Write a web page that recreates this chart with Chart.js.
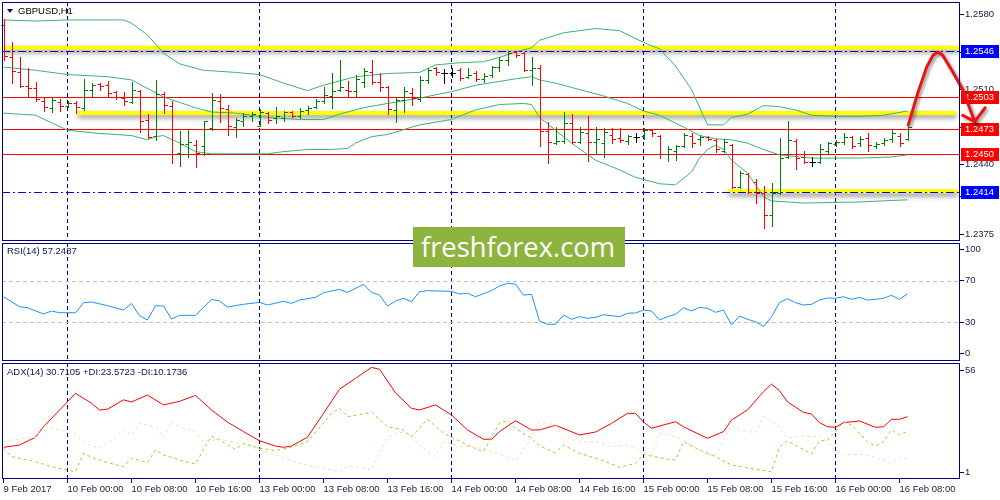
<!DOCTYPE html>
<html>
<head>
<meta charset="utf-8">
<title>GBPUSD,H1</title>
<script src="https://cdn.jsdelivr.net/npm/chart.js@4.4.1/dist/chart.umd.min.js"></script>
<style>
  body { margin: 0; background: #fff; }
  #wrap { position: relative; width: 1000px; height: 500px; overflow: hidden; font-family: "Liberation Sans", Arial, sans-serif; }
  canvas { position: absolute; left: 0; }
  #c1 { top: 0; }
  #c2 { top: 242px; }
  #c3 { top: 362px; }
  .lbl { position: absolute; font-size: 9.5px; line-height: 12px; color: #101050; white-space: nowrap; }
  #tri { position: absolute; left: 7px; top: 9px; width: 0; height: 0; border-left: 3px solid transparent; border-right: 3px solid transparent; border-top: 4px solid #000080; }
  #wm { position: absolute; left: 413px; top: 227px; width: 212px; height: 40px; background: #8db43e; overflow: hidden; }
  #wm span { position: absolute; left: 8px; top: 5px; font-family: "Open Sans", sans-serif; font-size: 28px; line-height: 28px; color: #fff; white-space: nowrap; transform-origin: 0 0; }
</style>
</head>
<body>
<div id="wrap">
  <canvas id="c1" width="1000" height="242"></canvas>
  <canvas id="c2" width="1000" height="120"></canvas>
  <canvas id="c3" width="1000" height="138"></canvas>
  <div id="tri"></div>
  <div class="lbl" style="left:18px;top:5px;color:#000">GBPUSD,H1</div>
  <div class="lbl" style="left:7px;top:245px">RSI(14) 57.2487</div>
  <div class="lbl" style="left:7px;top:366px">ADX(14) 30.7105 +DI:23.5723 -DI:10.1736</div>
  <div id="wm"><span>freshforex.com</span></div>
</div>
<script>
// hourly bars, 9 Feb 2017 16:00 .. 16 Feb 2017 09:00
const barOpen = [1.2570,1.2540,1.2526,1.2513,1.2511,1.2499,1.2493,1.2498,1.2495,1.2497,
  1.2493,1.2510,1.2515,1.2514,1.2508,1.2502,1.2498,1.2509,1.2482,1.2467,
  1.2506,1.2495,1.2451,1.2459,1.2458,1.2457,1.2474,1.2499,1.2492,1.2475,
  1.2481,1.2485,1.2476,1.2488,1.2483,1.2483,1.2489,1.2485,1.2491,1.2494,
  1.2499,1.2504,1.2510,1.2510,1.2509,1.2517,1.2526,1.2517,1.2512,1.2491,
  1.2500,1.2507,1.2501,1.2519,1.2530,1.2525,1.2525,1.2528,1.2522,1.2525,
  1.2520,1.2524,1.2531,1.2538,1.2545,1.2544,1.2528,1.2530,1.2471,1.2460,
  1.2462,1.2479,1.2461,1.2469,1.2461,1.2460,1.2468,1.2465,1.2462,1.2466,
  1.2467,1.2472,1.2467,1.2450,1.2453,1.2457,1.2467,1.2464,1.2466,1.2463,
  1.2453,1.2458,1.2419,1.2431,1.2424,1.2413,1.2393,1.2413,1.2447,1.2462,
  1.2447,1.2442,1.2442,1.2453,1.2459,1.2461,1.2466,1.2460,1.2465,1.2457,
  1.2460,1.2464,1.2467,1.2464];
const barHigh = [1.2576,1.2554,1.2540,1.2530,1.2517,1.2503,1.2502,1.2501,1.2499,1.2499,
  1.2520,1.2516,1.2516,1.2518,1.2509,1.2508,1.2517,1.2510,1.2487,1.2519,
  1.2508,1.2499,1.2471,1.2472,1.2463,1.2481,1.2507,1.2506,1.2496,1.2483,
  1.2488,1.2489,1.2492,1.2489,1.2494,1.2490,1.2490,1.2493,1.2495,1.2501,
  1.2512,1.2525,1.2538,1.2518,1.2524,1.2530,1.2538,1.2525,1.2513,1.2502,
  1.2512,1.2511,1.2523,1.2530,1.2531,1.2529,1.2530,1.2530,1.2530,1.2527,
  1.2525,1.2532,1.2540,1.2546,1.2546,1.2545,1.2540,1.2533,1.2480,1.2475,
  1.2489,1.2487,1.2475,1.2485,1.2475,1.2474,1.2474,1.2474,1.2468,1.2469,
  1.2474,1.2473,1.2468,1.2457,1.2458,1.2469,1.2469,1.2468,1.2467,1.2464,
  1.2464,1.2459,1.2434,1.2432,1.2426,1.2420,1.2423,1.2465,1.2481,1.2464,
  1.2453,1.2447,1.2459,1.2461,1.2463,1.2469,1.2467,1.2467,1.2469,1.2461,
  1.2465,1.2472,1.2469,1.2478];
const barLow = [1.2538,1.2516,1.2512,1.2503,1.2499,1.2490,1.2489,1.2490,1.2494,1.2488,
  1.2491,1.2503,1.2510,1.2504,1.2501,1.2496,1.2497,1.2470,1.2465,1.2463,
  1.2488,1.2441,1.2439,1.2447,1.2438,1.2449,1.2472,1.2480,1.2468,1.2466,
  1.2476,1.2481,1.2476,1.2479,1.2479,1.2481,1.2484,1.2483,1.2487,1.2493,
  1.2497,1.2493,1.2509,1.2504,1.2504,1.2512,1.2515,1.2509,1.2487,1.2480,
  1.2489,1.2496,1.2499,1.2516,1.2524,1.2516,1.2522,1.2519,1.2521,1.2518,
  1.2517,1.2522,1.2527,1.2533,1.2540,1.2527,1.2514,1.2457,1.2441,1.2459,
  1.2460,1.2460,1.2460,1.2443,1.2451,1.2447,1.2460,1.2461,1.2459,1.2461,
  1.2464,1.2467,1.2446,1.2443,1.2444,1.2456,1.2456,1.2458,1.2463,1.2452,
  1.2452,1.2418,1.2418,1.2413,1.2404,1.2381,1.2383,1.2412,1.2446,1.2436,
  1.2441,1.2439,1.2441,1.2451,1.2457,1.2459,1.2455,1.2457,1.2453,1.2455,
  1.2458,1.2461,1.2457,1.2463];
const barClose = [1.2541,1.2527,1.2513,1.2511,1.2501,1.2494,1.2500,1.2495,1.2497,1.2494,
  1.2510,1.2514,1.2513,1.2507,1.2503,1.2499,1.2510,1.2481,1.2466,1.2506,
  1.2496,1.2450,1.2459,1.2461,1.2451,1.2481,1.2500,1.2493,1.2476,1.2482,
  1.2485,1.2487,1.2489,1.2482,1.2485,1.2489,1.2485,1.2490,1.2493,1.2499,
  1.2505,1.2509,1.2512,1.2509,1.2520,1.2527,1.2517,1.2512,1.2492,1.2500,
  1.2509,1.2502,1.2519,1.2528,1.2526,1.2525,1.2525,1.2521,1.2524,1.2520,
  1.2523,1.2531,1.2538,1.2544,1.2542,1.2528,1.2530,1.2471,1.2461,1.2462,
  1.2479,1.2461,1.2470,1.2461,1.2464,1.2470,1.2464,1.2463,1.2467,1.2466,
  1.2472,1.2469,1.2450,1.2454,1.2457,1.2468,1.2460,1.2466,1.2464,1.2454,
  1.2461,1.2419,1.2432,1.2414,1.2413,1.2393,1.2413,1.2446,1.2463,1.2446,
  1.2442,1.2442,1.2454,1.2460,1.2461,1.2466,1.2457,1.2464,1.2458,1.2459,
  1.2463,1.2469,1.2460,1.2475];

// Bollinger bands (bar index / price)
const bbUpperBars = [0,4,8,12,15,16,18,20,22,25,29,32,35,38,40,44,48,52,54,57,60,62,64,66,67,70,74,77,80,82,84,86,88,90,91,93,95,97,99,101,104,107,110,113];
const bbUpper = [1.2575,1.2574,1.2575,1.2575,1.2575,1.2572,1.2561,1.2544,1.2534,1.2528,1.2526,1.2524,1.2516,1.2509,1.2514,1.2522,1.2525,1.2526,1.2533,1.2535,1.2536,1.2540,1.2545,1.2549,1.2556,1.2563,1.2567,1.2565,1.2554,1.2548,1.2532,1.2510,1.2477,1.2477,1.2484,1.2487,1.2495,1.2494,1.2491,1.2486,1.2485,1.2485,1.2486,1.2490];
const bbMiddleBars = [0,4,8,13,16,20,22,24,26,29,33,37,40,42,45,48,52,56,59,64,66,67,69,71,75,78,80,82,85,87,89,91,93,95,97,101,107,111,113];
const bbMiddle = [1.2531,1.2528,1.2524,1.2522,1.2519,1.2503,1.2498,1.2493,1.2489,1.2488,1.2484,1.2482,1.2482,1.2487,1.2493,1.2497,1.2502,1.2508,1.2514,1.2520,1.2522,1.2519,1.2516,1.2512,1.2504,1.2497,1.2490,1.2486,1.2475,1.2467,1.2464,1.2463,1.2460,1.2454,1.2449,1.2446,1.2446,1.2447,1.2449];
const bbLowerBars = [0,4,8,12,16,18,19,20,22,24,26,33,35,38,41,43,44,46,48,52,56,59,62,65,66,67,69,71,74,77,79,82,84,86,87,88,89,90,91,93,95,96,100,107,113];
const bbLower = [1.2488,1.2486,1.2472,1.2469,1.2467,1.2463,1.2466,1.2467,1.2460,1.2452,1.2450,1.2450,1.2452,1.2454,1.2454,1.2455,1.2460,1.2466,1.2468,1.2477,1.2482,1.2491,1.2496,1.2497,1.2496,1.2484,1.2472,1.2460,1.2444,1.2435,1.2428,1.2422,1.2421,1.2433,1.2446,1.2454,1.2458,1.2454,1.2444,1.2432,1.2410,1.2406,1.2404,1.2405,1.2407];

// RSI(14)
const rsiBars = [0,2,3,5,6,7,9,10,11,13,15,16,17,18,19,20,21,22,24,26,27,28,30,32,33,35,36,37,39,40,42,43,45,46,47,48,49,50,51,52,53,56,57,58,59,61,62,63,64,65,66,67,68,69,70,71,72,73,74,75,77,78,79,80,81,82,83,84,85,86,87,88,89,90,91,92,93,94,95,96,97,98,99,100,101,102,103,104,105,106,107,108,109,110,111,112,113];
const rsiValues = [54.4,44.8,43.8,37.8,40.7,39,39,48.7,49.3,45.8,41.6,48,36.2,32,45.8,45.5,33,36.5,36.5,51.9,50.3,44.5,47.1,49,46.4,50,48,51.2,53.8,58.3,61.5,58.6,66.3,58.6,56,45.5,50.3,52.9,49.6,59.2,60.2,59.6,57,57.7,54.4,60.2,64.7,67.3,66.6,56,56.7,31,27.9,27.9,36.8,32.7,35.2,33.7,34.6,37.1,35.2,38.5,38.8,41.6,40.7,32,35.2,37.5,43.8,40.7,44.2,43.3,39.4,41.6,27.2,35.9,32.7,30.4,25.6,35.2,48.7,52.5,48.7,46.4,47.1,51.2,53.2,52.9,54.4,51.9,53.8,51.2,51.9,52.9,55.8,51.9,57.2];
const rsiLevels = [70, 30];

// ADX(14), +DI, -DI
const adxBars = [0,2,4,5,8,9,11,12,13,15,16,18,20,22,24,26,28,30,32,34,35,36,38,40,42,44,46,47,49,51,52,54,56,58,60,61,62,64,66,67,69,72,74,76,78,79,80,81,84,85,88,90,91,93,95,96,97,98,100,101,102,103,104,105,107,109,110,111,112,113];
const adxValues = [14.6,15.8,20,25.6,39,43.5,38.2,34.6,35,40,38.9,42.6,37.3,39.2,42.4,34.6,28.1,23,18.1,15.3,14.6,15.3,20,32.8,45.7,51.5,57.4,56.4,43.8,35.5,34.6,37.3,31.9,23.9,18.9,18.9,23,28.8,23.9,23.9,26.4,21.2,22.8,27.4,32.8,32.8,28.1,24.8,28.3,25.6,19.4,23,29.2,34.6,44.4,48.5,44.9,38.9,33.3,32.4,27.8,25.6,25.3,27.8,28.7,25.3,25.6,29.6,29.6,31];
const plusDiBars = [0,1,4,6,8,9,10,11,13,15,16,18,19,20,22,24,25,26,27,29,30,32,34,36,38,40,41,42,43,46,48,50,51,53,55,58,60,61,62,63,64,66,67,69,70,72,75,77,79,80,83,84,85,87,89,91,94,96,97,98,101,102,103,104,105,106,108,109,110,111,112,113];
const plusDiValues = [14.1,9.6,6.9,4.2,2.4,1.5,11.4,9.2,6.4,4.2,8.7,6.4,13.2,10.5,7.8,5.7,13.5,20.6,18.5,13.5,16.7,14.1,12.8,14.6,17.6,27.5,32.8,35.5,31,33.3,25.6,23.9,20.3,29.6,22.1,15.8,12.2,20,27.5,28.7,24.8,19.4,15.3,11.7,15.8,11.4,7.4,3.9,6,10.8,8.2,7.8,17.6,13.2,9.6,5.1,2.8,1.5,14.9,18.1,11,18.1,18.5,23,28.3,26.5,17.6,15.3,17.6,23.9,21.2,23];
const minusDiBars = [0,1,4,5,7,8,9,10,12,14,15,16,17,19,20,21,22,24,25,27,29,31,34,37,40,42,43,45,46,47,48,50,51,53,54,55,57,60,62,64,65,66,67,69,70,72,74,76,78,80,81,82,83,85,88,89,91,92,94,95,97,98,100,102,103,104,105,107,109,111,112,113];
const minusDiValues = [17.6,18.5,20,26.5,23.9,23,21.2,17.1,14.1,20,24.2,21.2,27.5,25.6,20,28.3,25.6,23,17.6,18.9,17.1,14.9,10.5,6,3.4,1.5,4.6,3.4,2.4,11.4,20,23,20,12.2,9.6,17.6,15.3,14.1,11,7.4,13.2,19.4,28.3,26.5,20.3,17.6,17.6,14.9,15.8,11.7,9.6,22.1,21.7,18.5,10.5,10.5,26.5,23.9,22.4,31.4,25.6,19.4,20.6,20.3,17.6,12.2,10.5,11,9.2,6,9.2,8.2];

// time axis
const timeLabelBars = [0,8,16,24,32,40,48,56,64,72,80,88,96,104,112];
const timeLabels = ['9 Feb 2017','10 Feb 00:00','10 Feb 08:00','10 Feb 16:00','13 Feb 00:00','13 Feb 08:00','13 Feb 16:00','14 Feb 00:00','14 Feb 08:00','14 Feb 16:00','15 Feb 00:00','15 Feb 08:00','15 Feb 16:00','16 Feb 00:00','16 Feb 08:00'];
const daySeparators = [8,32,56,80,104];

// price axis and chart objects
const priceTicks = [1.2580, 1.2545, 1.2510, 1.2475, 1.2440, 1.2410, 1.2375];
const rsiTicks = [100, 70, 30, 0];
const adxTicks = [56, 1];
const redLevels = [1.2503, 1.2473, 1.2450];
const blueLevels = [1.2546, 1.2414];
const yellowLevels = [1.2549, 1.2488, 1.2415];
const yellowFrom = [-0.2, 9.3, 90.6];
const yellowTo = [119.5, 119.1, 119.3];
const tagLevels = [1.2546, 1.2503, 1.2473, 1.2450, 1.2414];
const tagColors = ['#0000ff', '#ff0000', '#ff0000', '#ff0000', '#0000ff'];
const arrowBars = [113.1, 114.3, 115.4, 116.2, 116.8, 117.4, 118.7, 119.9, 121.4];
const arrowPrices = [1.2477, 1.2507, 1.2531, 1.2542, 1.2545, 1.2542, 1.2526, 1.2510, 1.2480];
const arrowWingBars = [119.9, 122.7];
const arrowWingPrices = [1.2486, 1.2493];

const NAVY = '#000080';
const TEXT = '#1a1a3a';
const FONT = { family: '"Liberation Sans", Arial, sans-serif', size: 9.5 };
const BB_COLOR = '#3cb371';
const X_MIN = -0.1875;
const X_MAX = 119.5625;

function toPoints(xs, ys) {
    return xs.map((x, k) => ({ x: x, y: ys[k] }));
}

function lineSet(xs, ys, color, dash) {
    return {
        data: toPoints(xs, ys),
        borderColor: color,
        borderWidth: 1,
        borderDash: dash || [],
        pointRadius: 0,
        tension: 0
    };
}

function xScale(showLabels) {
    return {
        type: 'linear',
        min: X_MIN,
        max: X_MAX,
        afterBuildTicks: s => { s.ticks = timeLabelBars.map(v => ({ value: v })); },
        ticks: {
            display: showLabels,
            autoSkip: false,
            maxRotation: 0,
            minRotation: 0,
            align: 'start',
            padding: 1,
            font: FONT,
            color: TEXT,
            callback: v => timeLabels[timeLabelBars.indexOf(v)]
        },
        grid: {
            color: c => (c.tick && daySeparators.includes(c.tick.value)) ? NAVY : 'rgba(0,0,0,0)',
            tickColor: NAVY,
            drawTicks: showLabels,
            tickLength: 4,
            lineWidth: 1
        },
        border: { display: false, dash: [4, 3] },
        afterFit: s => { s.height = showLabels ? 21 : 0; s.paddingLeft = 0; s.paddingRight = 0; }
    };
}

function yScale(min, max, ticksList, fmt) {
    return {
        position: 'right',
        min: min,
        max: max,
        afterBuildTicks: s => { s.ticks = ticksList.map(v => ({ value: v })); },
        ticks: { font: FONT, color: TEXT, padding: 1, callback: fmt },
        grid: { drawOnChartArea: false, tickLength: 4, color: NAVY },
        border: { display: false },
        afterFit: s => { s.width = 40; s.paddingTop = 0; s.paddingBottom = 0; }
    };
}

const framePlugin = {
    id: 'frame',
    afterDraw(chart) {
        const { ctx, chartArea: a } = chart;
        ctx.save();
        ctx.strokeStyle = NAVY;
        ctx.lineWidth = 1;
        ctx.strokeRect(a.left + 0.5, a.top + 0.5, a.width - 1, a.height - 1);
        ctx.restore();
    }
};

function hLine(ctx, a, py) {
    ctx.beginPath();
    ctx.moveTo(a.left, py);
    ctx.lineTo(a.right, py);
    ctx.stroke();
}

const levelsPlugin = {
    id: 'levels',
    beforeDatasetsDraw(chart) {
        const { ctx, chartArea: a, scales: { x, y } } = chart;
        ctx.save();
        ctx.beginPath();
        ctx.rect(a.left, a.top, a.width, a.height);
        ctx.clip();

        yellowLevels.forEach((v, k) => {
            const py = y.getPixelForValue(v);
            ctx.save();
            ctx.shadowColor = 'rgba(0,0,0,0.45)';
            ctx.shadowBlur = 5;
            ctx.shadowOffsetY = 3;
            ctx.strokeStyle = '#ffff00';
            ctx.lineWidth = 4;
            ctx.beginPath();
            ctx.moveTo(x.getPixelForValue(yellowFrom[k]), py);
            ctx.lineTo(x.getPixelForValue(yellowTo[k]), py);
            ctx.stroke();
            ctx.restore();
        });

        ctx.lineWidth = 1;
        redLevels.forEach(v => {
            ctx.strokeStyle = 'rgb(255, 0, 0)';
            hLine(ctx, a, Math.round(y.getPixelForValue(v)) + 0.5);
        });

        ctx.strokeStyle = '#0000ff';
        ctx.setLineDash([8, 3, 2, 3]);
        blueLevels.forEach(v => {
            hLine(ctx, a, Math.round(y.getPixelForValue(v)) + 0.5);
        });
        ctx.restore();
    }
};

const ohlcPlugin = {
    id: 'ohlc',
    afterDatasetsDraw(chart) {
        const { ctx, scales: { x, y } } = chart;
        ctx.save();
        ctx.lineWidth = 1;
        barOpen.forEach((o, i) => {
            const c = barClose[i];
            ctx.strokeStyle = c > o ? '#008000' : (c < o ? '#ff0000' : '#000000');
            const px = Math.round(x.getPixelForValue(i)) + 0.5;
            const yh = Math.round(y.getPixelForValue(barHigh[i]));
            const yl = Math.round(y.getPixelForValue(barLow[i]));
            const yo = Math.round(y.getPixelForValue(o)) + 0.5;
            const yc = Math.round(y.getPixelForValue(c)) + 0.5;
            ctx.beginPath();
            ctx.moveTo(px, yh); ctx.lineTo(px, yl + 1);
            ctx.moveTo(px - 3, yo); ctx.lineTo(px, yo);
            ctx.moveTo(px, yc); ctx.lineTo(px + 3.5, yc);
            ctx.stroke();
        });
        ctx.restore();
    },
    afterDraw(chart) {
        const { ctx, chartArea: a, scales: { x, y } } = chart;
        ctx.save();
        // price tags on the right scale
        ctx.font = '9.5px "Liberation Sans", Arial, sans-serif';
        ctx.textBaseline = 'middle';
        tagLevels.forEach((v, k) => {
            const py = Math.round(y.getPixelForValue(v));
            ctx.fillStyle = tagColors[k];
            ctx.fillRect(a.right + 1, py - 6, 38, 13);
            ctx.fillStyle = '#ffffff';
            ctx.fillText(v.toFixed(4), a.right + 5, py + 0.5);
        });
        // hand-drawn forecast arrow
        ctx.shadowColor = 'rgba(0,0,0,0.4)';
        ctx.shadowBlur = 3;
        ctx.shadowOffsetX = 2;
        ctx.shadowOffsetY = 2;
        ctx.strokeStyle = '#ee1111';
        ctx.lineWidth = 3;
        ctx.lineJoin = 'round';
        ctx.lineCap = 'round';
        ctx.beginPath();
        arrowBars.forEach((b, k) => {
            const px = x.getPixelForValue(b);
            const py = y.getPixelForValue(arrowPrices[k]);
            if (k === 0) ctx.moveTo(px, py); else ctx.lineTo(px, py);
        });
        ctx.stroke();
        const tipX = x.getPixelForValue(arrowBars[arrowBars.length - 1]);
        const tipY = y.getPixelForValue(arrowPrices[arrowPrices.length - 1]);
        ctx.beginPath();
        ctx.moveTo(x.getPixelForValue(arrowWingBars[0]), y.getPixelForValue(arrowWingPrices[0]));
        ctx.lineTo(tipX, tipY);
        ctx.lineTo(x.getPixelForValue(arrowWingBars[1]), y.getPixelForValue(arrowWingPrices[1]));
        ctx.stroke();
        ctx.restore();
    }
};

const rsiLevelPlugin = {
    id: 'rsiLevels',
    beforeDatasetsDraw(chart) {
        const { ctx, chartArea: a, scales: { y } } = chart;
        ctx.save();
        ctx.strokeStyle = '#c0c0c0';
        ctx.lineWidth = 1;
        ctx.setLineDash([4, 3]);
        rsiLevels.forEach(v => hLine(ctx, a, Math.round(y.getPixelForValue(v)) + 0.5));
        ctx.restore();
    }
};

function baseOptions(padding, xs, ys) {
    return {
        animation: false,
        responsive: false,
        events: [],
        layout: { padding: padding, autoPadding: false },
        plugins: { legend: { display: false }, tooltip: { enabled: false } },
        scales: { x: xs, y: ys }
    };
}

new Chart(document.getElementById('c1'), {
    type: 'line',
    data: {
        datasets: [
            lineSet(bbUpperBars, bbUpper, BB_COLOR),
            lineSet(bbMiddleBars, bbMiddle, BB_COLOR),
            lineSet(bbLowerBars, bbLower, BB_COLOR)
        ]
    },
    options: baseOptions({ left: 2, top: 2, right: 0, bottom: 1 }, xScale(false),
        yScale(1.236854, 1.259176, priceTicks, v => v.toFixed(4))),
    plugins: [levelsPlugin, ohlcPlugin, framePlugin]
});

new Chart(document.getElementById('c2'), {
    type: 'line',
    data: { datasets: [lineSet(rsiBars, rsiValues, '#1e90ff')] },
    options: baseOptions({ left: 2, top: 1, right: 0, bottom: 1 }, xScale(false),
        yScale(-7.40, 106.06, rsiTicks, v => String(v))),
    plugins: [rsiLevelPlugin, framePlugin]
});

new Chart(document.getElementById('c3'), {
    type: 'line',
    data: {
        datasets: [
            lineSet(minusDiBars, minusDiValues, '#f5deb3', [3, 3]),
            lineSet(plusDiBars, plusDiValues, '#9acd32', [3, 3]),
            lineSet(adxBars, adxValues, '#ff0000')
        ]
    },
    options: baseOptions({ left: 2, top: 1, right: 0, bottom: 0 }, xScale(true),
        yScale(-2.38, 59.75, adxTicks, v => String(v))),
    plugins: [framePlugin]
});

const wmText = document.querySelector('#wm span');
const wmWidth = wmText.getBoundingClientRect().width;
if (wmWidth > 0) wmText.style.transform = 'scaleX(' + (194 / wmWidth) + ')';
</script>
</body>
</html>
